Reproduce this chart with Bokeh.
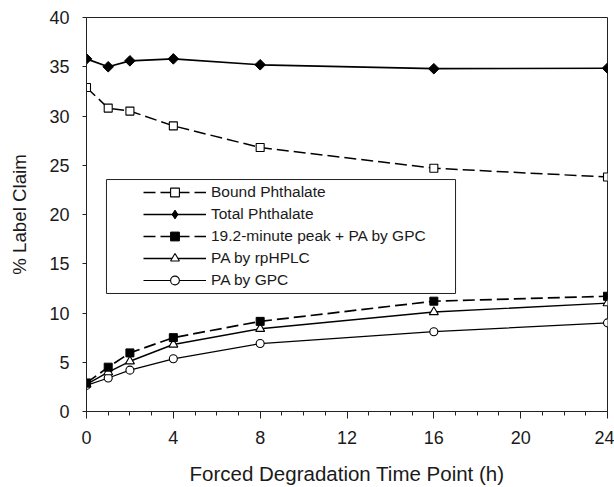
import numpy as np
from bokeh.plotting import figure
from bokeh.models import Range1d, FixedTicker, Legend, LegendItem, BoxAnnotation
from bokeh.embed import file_html
from bokeh.resources import INLINE

# ---- data ----
time_h = [0, 1, 2, 4, 8, 16, 24]
bound_phthalate = [32.9, 30.8, 30.5, 29.0, 26.8, 24.7, 23.8]
total_phthalate = [35.8, 35.0, 35.6, 35.8, 35.2, 34.8, 34.85]
peak_plus_pa_gpc = [2.9, 4.5, 5.95, 7.5, 9.15, 11.2, 11.7]
pa_rphplc = [2.75, 4.0, 5.1, 6.8, 8.4, 10.1, 11.0]
pa_gpc = [2.65, 3.4, 4.2, 5.35, 6.9, 8.1, 9.0]

x_ticks = [0, 4, 8, 12, 16, 20, 24]
x_minor_ticks = list(range(0, 25))
y_ticks = [0, 5, 10, 15, 20, 25, 30, 35, 40]

labels = ["Bound Phthalate", "Total Phthalate", "19.2-minute peak + PA by GPC",
          "PA by rpHPLC", "PA by GPC"]
x_title = "Forced Degradation Time Point (h)"
y_title = "% Label Claim"

FONT = "Liberation Sans"
TXT = "#1a1a1a"

p = figure(width=614, height=487, output_backend="svg", toolbar_location=None,
           x_range=Range1d(0, 24), y_range=Range1d(0, 40),
           min_border_left=86, min_border_right=7, min_border_top=17,
           min_border_bottom=76)
p.grid.visible = False
p.outline_line_color = "#222222"
p.outline_line_width = 1
p.background_fill_color = "white"
p.border_fill_color = "white"

for ax in (p.xaxis[0], p.yaxis[0]):
    ax.axis_line_color = "#222222"
    ax.axis_line_width = 1
    ax.major_tick_line_color = "#222222"
    ax.minor_tick_line_color = "#222222"
    ax.major_tick_in = 0
    ax.minor_tick_in = 0
    ax.major_label_text_font = FONT
    ax.major_label_text_font_size = "18px"
    ax.major_label_text_color = TXT
    ax.axis_label_text_font = FONT
    ax.axis_label_text_font_style = "normal"
    ax.axis_label_text_color = TXT

p.xaxis.ticker = FixedTicker(ticks=x_ticks, minor_ticks=x_minor_ticks)
p.xaxis.major_tick_out = 7
p.xaxis.minor_tick_out = 4
p.xaxis.major_label_standoff = 12
p.xaxis.axis_label_standoff = 15
p.xaxis.axis_label = x_title
p.xaxis.axis_label_text_font_size = "20.5px"

p.yaxis.ticker = FixedTicker(ticks=y_ticks, minor_ticks=[])
p.yaxis.major_tick_out = 4
p.yaxis.minor_tick_out = 0
p.yaxis.major_label_standoff = 13
p.yaxis.axis_label_standoff = 16
p.yaxis.axis_label = y_title
p.yaxis.axis_label_text_font_size = "18.7px"

# ---- lines ----
l_bound = p.line(time_h, bound_phthalate, line_color="black", line_width=1.5, line_dash="12 5")
l_total = p.line(time_h, total_phthalate, line_color="black", line_width=1.7)
l_peak = p.line(time_h, peak_plus_pa_gpc, line_color="black", line_width=1.7, line_dash="12 5")
l_rp = p.line(time_h, pa_rphplc, line_color="black", line_width=1.4)
l_gpc = p.line(time_h, pa_gpc, line_color="black", line_width=1.2)

# ---- markers ----
m_gpc = p.scatter(time_h, pa_gpc, marker="circle", size=8, fill_color="white",
                  line_color="black", line_width=1.1)
m_rp = p.scatter(time_h, pa_rphplc, marker="triangle", size=9, fill_color="white",
                 line_color="black", line_width=1.1)
m_bound = p.scatter(time_h, bound_phthalate, marker="square", size=8, fill_color="white",
                    line_color="black", line_width=1.1)
# diamond drawn underneath (hidden by the rotated square) – used for the legend glyph
m_total_leg = p.scatter(time_h, total_phthalate, marker="diamond", size=8,
                        fill_color="black", line_color="black", line_width=1)
m_total = p.scatter(time_h, total_phthalate, marker="square", angle=np.pi / 4, size=7.5,
                    fill_color="black", line_color="black", line_width=1)
m_peak = p.scatter(time_h, peak_plus_pa_gpc, marker="square", size=8, fill_color="black",
                   line_color="black", line_width=1)

# ---- legend ----
box = BoxAnnotation(left=0.92, right=17.0, bottom=11.98, top=23.55,
                    fill_color="white", fill_alpha=1.0,
                    line_color="#222222", line_alpha=1.0, line_width=1)
p.add_layout(box)

items = [
    LegendItem(label=labels[0], renderers=[l_bound, m_bound]),
    LegendItem(label=labels[1], renderers=[l_total, m_total_leg]),
    LegendItem(label=labels[2], renderers=[l_peak, m_peak]),
    LegendItem(label=labels[3], renderers=[l_rp, m_rp]),
    LegendItem(label=labels[4], renderers=[l_gpc, m_gpc]),
]
legend = Legend(items=items, location=(57, 120), padding=0, margin=0, spacing=0,
                glyph_width=63, glyph_height=22, label_height=22, label_standoff=5,
                border_line_alpha=0, background_fill_alpha=0,
                label_text_font=FONT, label_text_font_size="15.5px",
                label_text_color=TXT)
p.add_layout(legend)

open("out.html", "w").write(file_html(p, INLINE))
